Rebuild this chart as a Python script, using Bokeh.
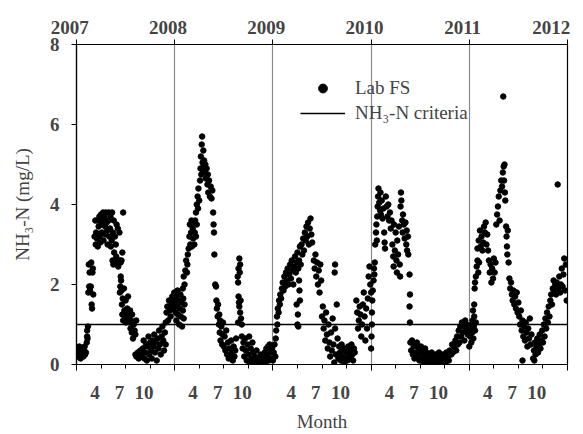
from bokeh.plotting import figure
from bokeh.models import LinearAxis, FixedTicker, Range1d, Legend, LegendItem
from bokeh.embed import file_html
from bokeh.resources import INLINE

# x = months since 1 Jan 2007, y = NH3-N (mg/L)
lab_2007 = [(0.05,0.3),(0.15,0.2),(0.2,0.4),(0.3,0.25),(0.35,0.45),(0.45,0.3),(0.5,0.15),(0.55,0.35),(0.65,0.25),(0.7,0.4),(0.8,0.3),(0.85,0.2),(0.95,0.35),(1.0,0.45),(1.05,0.25),(1.15,0.3),(0.25,0.35),(0.6,0.2),
 (1.25,0.55),(1.3,0.7),(1.3,0.85),(1.35,0.65),(1.4,0.95),
 (1.45,1.8),(1.5,2.5),(1.55,1.95),(1.6,2.3),(1.65,1.85),(1.75,1.95),(1.8,2.55),(1.85,1.5),(1.9,1.4),(2.0,2.4),(2.05,1.75),(1.95,2.3),
 (2.2,3.2),(2.3,3.6),(2.35,3.0),(2.4,3.3),(2.5,3.15),(2.55,3.6),(2.6,2.95),(2.7,3.45),(2.8,3.7),(2.85,3.2),(2.9,3.05),(3.0,3.75),(3.05,3.5),(3.1,3.3),(3.2,3.6),(3.25,3.8),(3.3,3.1),(3.4,3.7),(3.5,3.45),(3.55,3.25),(3.6,3.8),(3.7,3.55),(3.75,3.35),(3.8,3.0),(3.9,3.6),(3.95,3.8),(4.0,3.2),(4.1,3.4),(4.15,3.7),(4.2,2.95),(4.3,3.1),(4.35,3.8),(4.4,2.6),(4.45,3.3),(4.5,2.5),(4.55,3.6),(4.6,2.8),(4.7,3.2),(4.75,2.55),(4.8,3.0),(4.85,2.7),(4.9,3.5),(5.0,2.6),(5.05,3.4),(5.1,2.45),(5.2,2.6),(5.25,3.3),(5.3,2.6),(5.4,2.55),(5.5,2.6),(5.7,3.8),(5.6,2.8),
 (5.3,1.8),(5.35,1.95),(5.4,2.2),(5.45,2.1),(5.5,1.85),(5.55,1.5),(5.6,1.25),(5.65,1.65),(5.7,1.1),(5.8,1.9),(5.85,1.35),(5.9,1.2),(6.0,1.6),(6.05,1.05),(6.1,1.3),(6.2,1.4),(6.25,1.15),(6.3,1.7),(6.4,1.2),(6.5,1.05),(6.55,1.35),(6.6,0.9),(6.7,1.1),(6.75,0.8),(6.8,1.25),(6.9,0.65),(7.0,1.0),(7.1,0.85),(7.2,0.75),(7.3,1.1),
 (7.2,0.25),(7.3,0.2),(7.5,0.3),(7.6,0.15),(7.7,0.25),(7.8,0.35),(8.0,0.2),(8.1,0.4),(8.2,0.6),(8.3,0.15),(8.4,0.3),(8.5,0.5),(8.6,0.1),(8.7,0.45),(8.8,0.7),(8.9,0.25),(9.0,0.55),(9.1,0.35),(9.2,0.15),(9.3,0.6),(9.4,0.45),(9.5,0.75),(9.6,0.3),(9.7,0.55),(9.8,0.1),(9.9,0.65),(10.0,0.4),(10.1,0.85),(10.2,0.5),(10.3,0.25),(10.4,0.7),(10.5,0.95),(10.6,0.6),(10.7,0.35),(10.8,0.8),(10.9,0.5),
 (10.9,1.05),(11.0,1.3),(11.1,1.45),(11.2,1.1),(11.3,1.6),(11.4,1.35),(11.5,1.2),(11.6,1.5),(11.7,1.7),(11.8,1.4),(11.9,1.6),(11.95,1.8)]

lab_2008 = [(12.0,1.5),(12.1,1.3),(12.15,1.7),(12.2,1.1),(12.3,1.45),(12.35,1.85),(12.4,1.25),(12.5,1.6),(12.55,1.0),(12.6,1.4),(12.7,1.75),(12.75,1.2),(12.8,1.55),(12.9,0.95),(13.0,1.35),(13.05,1.65),(13.1,1.15),(13.2,1.5),
 (13.0,1.9),(13.1,2.2),(13.2,2.0),(13.3,2.35),(13.4,2.6),(13.5,2.3),(13.6,2.75),(13.55,2.5),
 (13.7,2.9),(13.8,3.2),(13.85,3.5),(13.9,3.0),(14.0,3.3),(14.05,3.6),(14.1,2.95),(14.2,3.4),(14.25,3.15),(14.3,3.55),(14.4,3.0),(14.45,3.3),(14.5,3.6),(14.6,3.2),(14.7,3.5),
 (14.6,3.8),(14.7,4.0),(14.8,4.2),(14.85,3.9),(14.9,4.4),(15.0,4.1),
 (15.1,4.6),(15.15,4.9),(15.2,5.2),(15.25,4.75),(15.3,5.5),(15.35,5.7),(15.4,5.05),(15.45,4.85),(15.5,5.35),(15.55,4.95),(15.6,5.1),(15.7,4.8),(15.75,5.0),(15.8,4.65),(15.9,4.9),(16.0,4.5),(16.05,4.75),(16.1,4.3),(16.2,4.6),(16.3,4.2),(16.4,4.45),(16.5,4.15),(16.6,4.35),
 (16.7,3.8),(16.75,3.5),(16.8,3.3),(16.85,2.75),(16.95,2.0),(17.05,1.95),(17.1,1.6),(17.15,1.4),(17.25,1.2),(17.3,1.5),(17.4,1.0),(17.45,1.25),(17.5,0.8),(17.55,1.1),(17.6,0.6),(17.7,0.95),(17.8,0.5),(17.85,0.75),(17.9,1.05),(18.0,0.45),(18.1,0.7),(18.2,0.35),(18.3,0.85),(18.4,0.25),(18.5,0.55),(18.6,0.15),(18.7,0.4),(18.8,0.2),(18.9,0.6),(19.0,0.3),(19.1,0.1),(19.2,0.45),(19.3,0.2),(19.4,0.35),(19.5,0.65),
 (19.7,2.2),(19.75,2.05),(19.8,2.4),(19.9,2.65),(19.95,2.3),(20.0,2.5),(19.8,1.7),(19.85,1.55),(19.9,1.45),(20.0,1.3),(20.05,1.6),(20.1,1.15),(20.2,1.0),(19.75,1.05),
 (20.2,0.7),(20.3,0.4),(20.4,0.55),(20.5,0.2),(20.6,0.65),(20.7,0.35),(20.8,0.1),(20.9,0.5),(21.0,0.25),(21.1,0.7),(21.2,0.05),(21.3,0.4),(21.4,0.15),(21.5,0.55),(21.6,0.3),(21.7,0.05),(21.8,0.2),(21.9,0.1),(22.0,0.35),(22.1,0.05),(22.2,0.15),(22.4,0.1),(22.5,0.25),(22.6,0.05),(22.8,0.15),(22.9,0.1),(23.0,0.3),(23.1,0.05),(23.2,0.4),(23.3,0.2),(23.4,0.45),(23.5,0.1),(23.6,0.5),(23.7,0.3),(23.8,0.15),(23.9,0.4)]

lab_2009 = [(24.0,0.1),(24.1,0.3),(24.2,0.5),(24.3,0.2),(24.35,0.65),(24.4,0.85),(24.5,1.2),(24.55,1.0),(24.6,1.4),(24.7,1.3),(24.75,1.6),(24.85,1.5),(24.9,1.75),(25.0,1.65),(25.1,1.9),(25.2,2.05),(25.3,1.85),(25.4,2.2),(25.5,1.95),(25.6,2.3),(25.7,2.1),(25.8,2.4),(25.9,2.0),(26.0,2.25),(26.1,2.5),(26.2,2.15),(26.3,2.6),(26.4,2.35),(26.5,2.0),(26.6,2.45),(26.7,2.7),(26.8,2.3),(26.9,2.55),(27.0,2.8),(27.1,2.4),(27.2,2.6),(27.3,2.95),(27.4,2.5),(27.5,3.0),(27.6,2.75),(27.7,3.15),(27.8,2.85),(27.9,3.3),(28.0,3.1),(28.1,3.45),(28.2,3.2),(28.3,3.55),(28.4,3.0),(28.5,3.4),(28.6,3.65),(28.7,3.25),(28.8,3.05),
 (26.9,1.5),(27.0,1.0),(27.05,1.25),(27.1,0.95),(27.2,2.1),(27.25,1.85),(27.3,1.6),
 (29.0,2.6),(29.1,2.4),(29.2,2.75),(29.3,2.2),(29.4,2.55),(29.5,2.0),(29.6,2.35),(29.7,1.8),(29.8,2.5),(29.9,2.1),
 (30.0,1.2),(30.1,1.45),(30.2,0.9),(30.3,1.1),(30.4,0.6),(30.5,1.3),(30.6,0.75),(30.7,0.4),(30.8,1.0),(30.9,0.55),(31.0,0.2),(31.1,0.8),(31.2,0.35),(31.3,1.15),(31.4,0.5),(31.5,0.05),(31.6,0.9),(31.7,0.25),(31.55,2.3),(31.6,2.5),(31.8,1.5),(31.9,0.65),(32.0,0.15),(32.1,0.45),(32.2,0.3),(32.3,0.1),(32.4,0.5),(32.5,0.2),(32.6,0.35),(32.7,0.05),(32.8,0.4),(32.9,0.15),(33.0,0.3),(33.1,0.1),(33.2,0.45),(33.3,0.2),(33.4,0.35),(33.5,0.15),(33.6,0.5),(33.7,0.25),(33.8,0.1),(33.9,0.4),(34.0,0.3),
 (34.2,1.6),(34.3,1.3),(34.4,0.9),(34.5,1.1),(34.6,1.45),(34.7,1.25),(34.8,0.7),(34.9,1.0),(35.0,1.5),(35.1,1.8),(35.2,1.2),(35.3,0.6),(35.4,1.4),(35.5,0.9),(35.6,1.65),(35.7,2.2),(35.8,2.45),(35.9,2.0),(36.0,1.8)]

lab_2010 = [(36.0,0.4),(36.05,0.7),(36.1,1.0),(36.1,1.3),(36.15,1.6),(36.2,1.85),(36.3,2.1),(36.35,2.4),(36.4,2.25),(36.45,2.55),(36.5,3.0),(36.6,3.3),(36.65,3.5),(36.7,3.1),(36.75,3.7),(36.8,3.95),(36.85,4.2),(36.9,4.4),(37.0,4.05),(37.1,3.85),(37.15,4.3),(37.2,3.75),(37.3,4.1),(37.4,3.65),(37.5,3.9),(37.6,3.3),(37.65,3.05),(37.7,2.9),(37.8,4.2),(37.9,3.95),(38.0,3.7),(38.1,4.0),(38.2,3.6),(38.3,3.8),(38.4,3.4),(38.5,3.6),(38.6,3.0),(38.7,2.7),(38.75,2.45),(38.8,3.5),(38.9,2.85),(39.0,3.3),(39.1,2.6),(39.15,2.3),(39.2,3.1),(39.3,2.75),(39.4,3.45),(39.5,2.5),(39.55,2.2),(39.6,3.95),(39.65,4.3),(39.7,4.1),(39.8,3.6),(39.85,3.3),(39.9,3.75),(40.0,3.5),(40.1,3.15),(40.2,3.55),(40.3,3.0),(40.35,3.35),(40.4,2.85),(40.5,3.2),(40.55,2.75),(40.7,2.25),(40.75,1.75),(40.7,1.45),(40.75,1.05),
 (40.8,0.55),(40.9,0.35),(41.0,0.6),(41.1,0.25),(41.2,0.45),(41.3,0.15),(41.4,0.5),(41.5,0.3),(41.6,0.55),(41.7,0.2),(41.8,0.4),(41.9,0.1),(42.0,0.3),(42.1,0.45),(42.2,0.15),(42.3,0.35),(42.4,0.05),(42.5,0.25),(42.6,0.4),(42.7,0.1),(42.8,0.3),(42.9,0.2),(43.0,0.05),(43.2,0.25),(43.3,0.15),(43.4,0.3),(43.5,0.05),(43.6,0.2),(43.8,0.1),(43.9,0.25),(44.0,0.05),(44.2,0.15),(44.3,0.3),(44.4,0.05),(44.6,0.2),(44.7,0.1),(44.8,0.25),(45.0,0.15),(45.1,0.05),(45.2,0.3),(45.4,0.2),(45.5,0.1),(45.6,0.35),(45.8,0.25),(45.9,0.5),(46.0,0.3),(46.1,0.45),(46.3,0.6),(46.4,0.35),(46.5,0.7),(46.6,0.5),(46.7,0.85),(46.8,0.55),(46.9,0.95),(47.0,0.7),(47.1,1.05),(47.2,0.8),(47.3,0.95),(47.4,0.6),(47.5,1.1),(47.6,0.85),(47.7,1.0),(47.8,0.75),(47.9,0.9)]

lab_2011 = [(48.0,0.45),(48.1,0.7),(48.2,0.9),(48.25,0.55),(48.3,1.0),(48.35,0.8),(48.4,1.1),(48.5,0.65),(48.55,0.95),(48.6,1.2),(48.7,0.85),(48.8,1.05),(48.45,1.35),(48.6,1.5),(48.65,1.9),(48.7,2.05),(48.8,2.2),(48.9,2.45),(49.0,2.6),(49.1,2.3),(49.2,2.55),(49.0,2.9),(49.15,3.1),(49.3,3.35),(49.4,2.95),(49.5,3.2),(49.6,2.85),(49.7,3.05),(49.8,3.45),(49.9,3.3),(50.0,3.55),(50.1,3.0),(50.2,3.25),(50.3,2.85),(50.4,2.6),(50.5,2.3),(50.6,2.5),(50.7,2.05),(50.8,2.4),(50.9,2.15),(51.0,2.65),(51.1,2.3),(51.2,2.55),(51.3,3.5),(51.4,3.75),(51.5,3.95),(51.6,4.2),(51.7,3.6),(51.8,4.35),(51.9,4.6),(52.0,4.45),(52.1,4.8),(52.15,6.7),(52.2,4.95),(52.25,4.6),(52.3,5.0),(52.35,4.3),(52.4,4.1),(52.5,3.45),(52.55,3.2),(52.6,2.95),(52.65,2.75),(52.7,3.35),(52.8,2.55),(52.9,2.15),(53.0,1.9),(53.1,2.05),(53.2,1.75),(53.3,1.6),(53.4,1.85),(53.5,1.5),(53.6,1.7),(53.7,1.4),(53.8,1.8),(53.9,1.3),(54.0,1.55),(54.1,1.2),(54.2,1.0),(54.3,1.35),(54.4,0.85),(54.5,1.1),(54.6,0.7),(54.7,0.95),(54.8,0.6),(54.9,1.05),(55.0,0.8),(55.1,0.45),(55.2,0.9),(55.3,0.65),(55.4,1.15),(55.5,0.5),(55.6,0.75),(54.5,0.1),(55.8,0.15),(55.95,0.1),(55.9,0.35),(56.0,0.55),(56.1,0.25),(56.2,0.45),(56.3,0.65),(56.4,0.3),(56.5,0.5),(56.6,0.75),(56.7,0.4),(56.8,0.6),(56.9,0.85),(57.0,0.55),(57.1,1.0),(57.2,0.7),(57.3,1.15),(57.4,0.9),(57.5,1.3),(57.6,1.05),(57.7,1.45),(57.8,1.2),(57.9,1.6),(58.0,1.75),(58.1,1.5),(58.2,1.9),(58.3,2.1),(58.4,1.85),(58.5,2.0),(58.6,1.75),(58.7,2.05),(58.8,4.5),(58.9,1.9),(59.0,2.2),(59.1,1.8),(59.2,2.0),(59.3,2.4),(59.4,1.95),(59.5,2.25),(59.6,2.65),(59.7,1.85),(59.8,2.5),(59.9,1.6)]

criteria = 1.0
years = ["2007", "2008", "2009", "2010", "2011", "2012"]
year_months = [0, 12, 24, 36, 48, 60]
month_labels = ["4", "7", "10"]
month_offsets = [3, 6, 9]
y_ticks = [0, 2, 4, 6, 8]

all_pts = lab_2007 + lab_2008 + lab_2009 + lab_2010 + lab_2011
xs = [a for a, b in all_pts]
ys = [b for a, b in all_pts]

FONT = "Liberation Serif"
LABEL_SHIFT = -0.75   # month labels sit slightly left of their tick (months)
PAD = "\u00a0\u00a0\u2009"  # trailing non-collapsing space nudges year labels left

p = figure(width=583, height=434, x_range=Range1d(year_months[0], year_months[-1]),
           y_range=Range1d(y_ticks[0], y_ticks[-1]), output_backend="svg",
           toolbar_location=None, min_border_left=76, min_border_right=16,
           min_border_top=44, min_border_bottom=70)
p.outline_line_color = "black"
p.outline_line_width = 1.2
p.background_fill_color = "white"
p.border_fill_color = "white"

p.ygrid.visible = False
p.xgrid.ticker = FixedTicker(ticks=year_months[1:-1])
p.xgrid.grid_line_color = "#8a8a8a"
p.xgrid.grid_line_width = 1.2

crit = p.line(x=[year_months[0], year_months[-1]], y=[criteria, criteria],
              line_color="black", line_width=1.5)
sc = p.scatter(xs, ys, size=5.5, fill_color="black", line_color="black")

# y axis
ya = p.yaxis[0]
ya.ticker = FixedTicker(ticks=y_ticks)
ya.major_tick_out = 5
ya.major_tick_in = 0
ya.minor_tick_line_color = None
ya.axis_line_color = "black"
ya.axis_line_width = 1.2
ya.major_label_text_font = FONT
ya.major_label_text_font_style = "bold"
ya.major_label_text_font_size = "19px"
ya.major_label_standoff = 12
ya.axis_label = "NH\u2083-N (mg/L)"
ya.axis_label_text_font = FONT
ya.axis_label_text_font_style = "normal"
ya.axis_label_text_font_size = "19px"
ya.axis_label_standoff = 14

# bottom: tick marks only
quarter = [y + q for y in year_months[:-1] for q in month_offsets]
xa = p.xaxis[0]
xa.ticker = FixedTicker(ticks=year_months, minor_ticks=quarter)
xa.major_tick_out = 6
xa.major_tick_in = 0
xa.minor_tick_out = 4
xa.minor_tick_in = 0
xa.axis_line_width = 1.2
xa.major_label_text_font_size = "1px"
xa.major_label_text_color = None
xa.major_label_standoff = 0

# bottom: month labels
lab_pos = [y + q + LABEL_SHIFT for y in year_months[:-1] for q in month_offsets]
lab_txt = [month_labels[i % 3] for i in range(len(lab_pos))]
xb = LinearAxis(ticker=FixedTicker(ticks=lab_pos), axis_line_color=None,
                major_tick_line_color=None, minor_tick_line_color=None,
                major_label_overrides={k: v for k, v in zip(lab_pos, lab_txt)},
                major_label_text_font=FONT, major_label_text_font_style="bold",
                major_label_text_font_size="19px", major_label_standoff=9,
                axis_label="Month", axis_label_text_font=FONT,
                axis_label_text_font_style="normal", axis_label_text_font_size="19px",
                axis_label_standoff=9)
p.add_layout(xb, "below")

# top: year ticks with year labels
ta = LinearAxis(ticker=FixedTicker(ticks=year_months), major_tick_out=5, major_tick_in=0,
                minor_tick_line_color=None, axis_line_color="black", axis_line_width=1.2,
                major_label_overrides={m: yr + PAD for m, yr in zip(year_months, years)},
                major_label_text_font=FONT, major_label_text_font_style="bold",
                major_label_text_font_size="19px", major_label_standoff=2)
p.add_layout(ta, "above")

legend = Legend(items=[LegendItem(label="Lab FS", renderers=[sc]),
                       LegendItem(label="NH\u2083-N criteria", renderers=[crit])],
                location=(224, 240), glyph_width=45, glyph_height=22, label_height=22,
                spacing=3, padding=0, margin=0, border_line_color=None,
                background_fill_alpha=0, label_text_font=FONT,
                label_text_font_size="19px", label_standoff=10)
p.add_layout(legend)

open("out.html", "w").write(file_html(p, INLINE))
